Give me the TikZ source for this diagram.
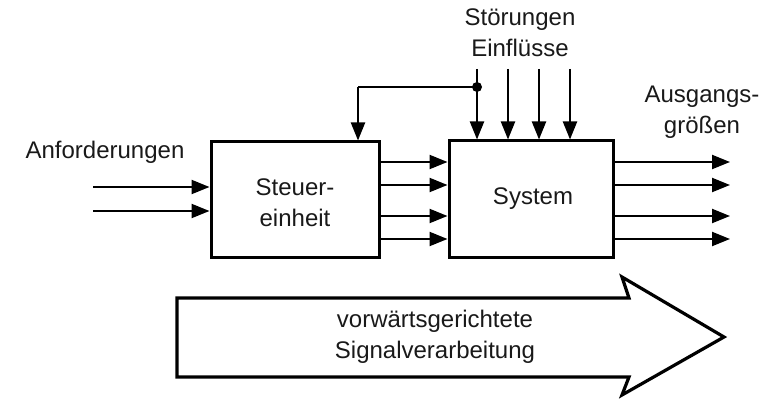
\documentclass[tikz,border=0pt]{standalone}
\usepackage{fontspec}
\setmainfont{Liberation Sans}
\usetikzlibrary{arrows.meta,calc}
\begin{document}
\begin{tikzpicture}[x=1pt,y=-1pt,
  lbl/.style={font=\fontsize{24}{31}\selectfont, align=center, inner sep=0pt, text=black!90},
  blk/.style={draw, line width=3pt, rectangle, inner sep=0pt},
  sig/.style={line width=2.2pt, -{Triangle[length=18pt,width=14pt]}},
  line/.style={line width=2.2pt}]
\useasboundingbox (0,0) rectangle (766,403);
% blocks
\node[blk, minimum width=168pt, minimum height=116pt] (st) at (295,200) {};
\node[lbl] (stt) at (295,203) {Steuer-\\einheit};
\node[blk, minimum width=164pt, minimum height=117pt] (sys) at (531,199.5) {};
\node[lbl] (syst) at (533,199) {System};
% labels
\node[lbl] (anf) at (105,152) {Anforderungen};
\node[lbl] (stoer) at (520,33) {Störungen\\Einflüsse};
\node[lbl] (ausg) at (702,112) {Ausgangs-\\größen};
% inputs
\coordinate (i1) at (93,187);
\coordinate (i2) at (93,211);
\draw[sig] (i1) -- (i1 -| st.west);
\draw[sig] (i2) -- (i2 -| st.west);
% between boxes and outputs
\foreach \yy [count=\k] in {162,185,216,239}{
  \coordinate (m\k) at (379,\yy);
  \coordinate (o\k) at (730,\yy);
  \draw[sig] (m\k -| st.east) -- (m\k -| sys.west);
  \draw[sig] (m\k -| sys.east) -- (o\k);
}
% disturbances
\foreach \xx [count=\k] in {477,508,539,570}{
  \coordinate (d\k) at (\xx,69);
  \draw[sig] (d\k) -- (d\k |- sys.north);
}
% feedback
\coordinate (j) at (477,87);
\coordinate (fb) at (358,87);
\fill (j) circle (5pt);
\draw[line] (j) -- (fb);
\draw[sig] (fb) -- (fb |- st.north);
% big arrow
\draw[line width=3.2pt, line join=miter]
  (177,298) -- (629,298) -- (622,277) -- (724,337) -- (622,395) -- (629,377) -- (177,377) -- cycle;
\node[lbl] (sv) at (435,337) {vorwärtsgerichtete\\Signalverarbeitung};
\end{tikzpicture}
\end{document}
